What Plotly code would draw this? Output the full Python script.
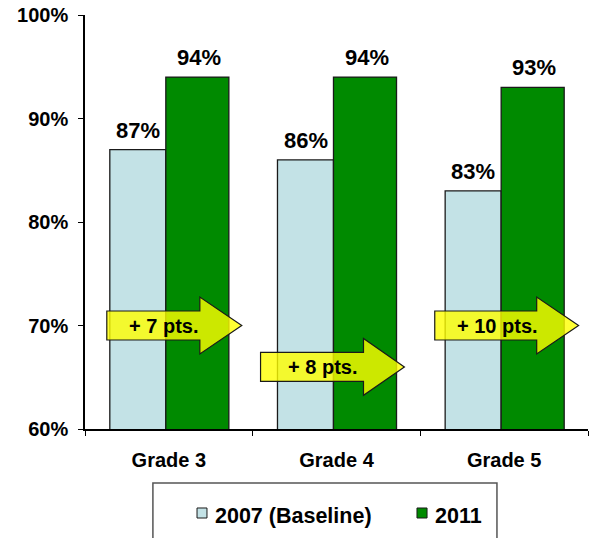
import plotly.graph_objects as go

categories = ["Grade 3", "Grade 4", "Grade 5"]
baseline_2007 = [87, 86, 83]
values_2011 = [94, 94, 93]
series_names = ["2007 (Baseline)", "2011"]
gain_labels = ["+ 7 pts.", "+ 8 pts.", "+ 10 pts."]
arrow_levels = [70, 66, 70]
y_ticks = [60, 70, 80, 90, 100]

FONT = "Liberation Sans, Arial, sans-serif"
C_BASE = "#c3e2e6"
C_2011 = "#008a00"
EDGE = "#1a1a1a"

fig = go.Figure()
fig.add_trace(go.Bar(
    x=categories, y=baseline_2007, name=series_names[0],
    marker=dict(color=C_BASE, line=dict(color=EDGE, width=1.3)),
    width=0.334, offset=-0.352, showlegend=False,
))
fig.add_trace(go.Bar(
    x=categories, y=values_2011, name=series_names[1],
    marker=dict(color=C_2011, line=dict(color=EDGE, width=1.3)),
    width=0.376, offset=-0.018, showlegend=False,
))

# value labels
for cat, v in zip(categories, baseline_2007):
    fig.add_annotation(x=cat, y=v, text=f"<b>{v}%</b>", showarrow=False, xshift=-31,
                       yanchor="bottom", yshift=5, font=dict(size=22, color="black", family=FONT))
for cat, v in zip(categories, values_2011):
    fig.add_annotation(x=cat, y=v, text=f"<b>{v}%</b>", showarrow=False, xshift=30,
                       yanchor="bottom", yshift=5, font=dict(size=22, color="black", family=FONT))

# gain arrows (decorations)
arrow_geom = [(-0.37, 0.185, 0.435), (-0.453, 0.161, 0.405), (-0.414, 0.194, 0.444)]
text_off = [-0.03, -0.083, -0.042]
for i, ((x0, xb, xt), lvl, lab, to) in enumerate(zip(arrow_geom, arrow_levels, gain_labels, text_off)):
    bh, hh = 1.4, 2.75
    path = (f"M {i+x0},{lvl-bh} L {i+xb},{lvl-bh} L {i+xb},{lvl-hh} L {i+xt},{lvl} "
            f"L {i+xb},{lvl+hh} L {i+xb},{lvl+bh} L {i+x0},{lvl+bh} Z")
    fig.add_shape(type="path", path=path, xref="x", yref="y",
                  fillcolor="rgba(255,255,0,0.8)", line=dict(color=EDGE, width=1.2),
                  layer="above")
    fig.add_annotation(x=i + to, y=lvl, text=f"<b>{lab}</b>", showarrow=False,
                       xref="x", yref="y", font=dict(size=20, color="black", family=FONT))

# legend (drawn manually)
fig.add_shape(type="rect", xref="paper", yref="paper", x0=0.135, x1=0.819, y0=-0.32, y1=-0.1304,
              line=dict(color="#555555", width=1.5), fillcolor="rgba(0,0,0,0)")
leg_x = [(0.2227, 0.2425, 0.2545), (0.660, 0.680, 0.6918)]
for (sx0, sx1, tx), name, col in zip(leg_x, series_names, [C_BASE, C_2011]):
    fig.add_shape(type="rect", xref="paper", yref="paper", x0=sx0, x1=sx1, y0=-0.215, y1=-0.1908,
                  line=dict(color=EDGE, width=1), fillcolor=col)
    fig.add_annotation(xref="paper", yref="paper", x=tx, y=-0.209, xanchor="left", yanchor="middle",
                       text=f"<b>{name}</b>", showarrow=False,
                       font=dict(size=21.5, color="black", family=FONT))

fig.update_layout(
    width=597, height=538,
    margin=dict(l=85, r=9, t=15, b=109),
    plot_bgcolor="white", paper_bgcolor="white",
    barmode="overlay",
    font=dict(family=FONT, size=20, color="black"),
    showlegend=False,
    xaxis=dict(showline=True, linecolor="black", linewidth=1.5, ticks="outside",
               tickson="boundaries", ticklen=5, tickcolor="black", automargin=False,
               ticklabelstandoff=12,
               tickvals=categories, ticktext=[f"<b>{c}</b>" for c in categories],
               tickfont=dict(size=20, family=FONT), range=[-0.5, 2.5]),
    yaxis=dict(range=[60, 100], tickvals=y_ticks, ticktext=[f"<b>{v}%</b>" for v in y_ticks],
               showline=True, linecolor="black", linewidth=1.5, ticks="outside",
               ticklen=5, tickcolor="black", showgrid=False, zeroline=False, automargin=False,
               ticklabelstandoff=6,
               tickfont=dict(size=20, family=FONT)),
)

fig.write_html("out.html", config={"displayModeBar": False},
               post_script="document.body.style.margin='0';document.body.style.overflow='hidden';")
